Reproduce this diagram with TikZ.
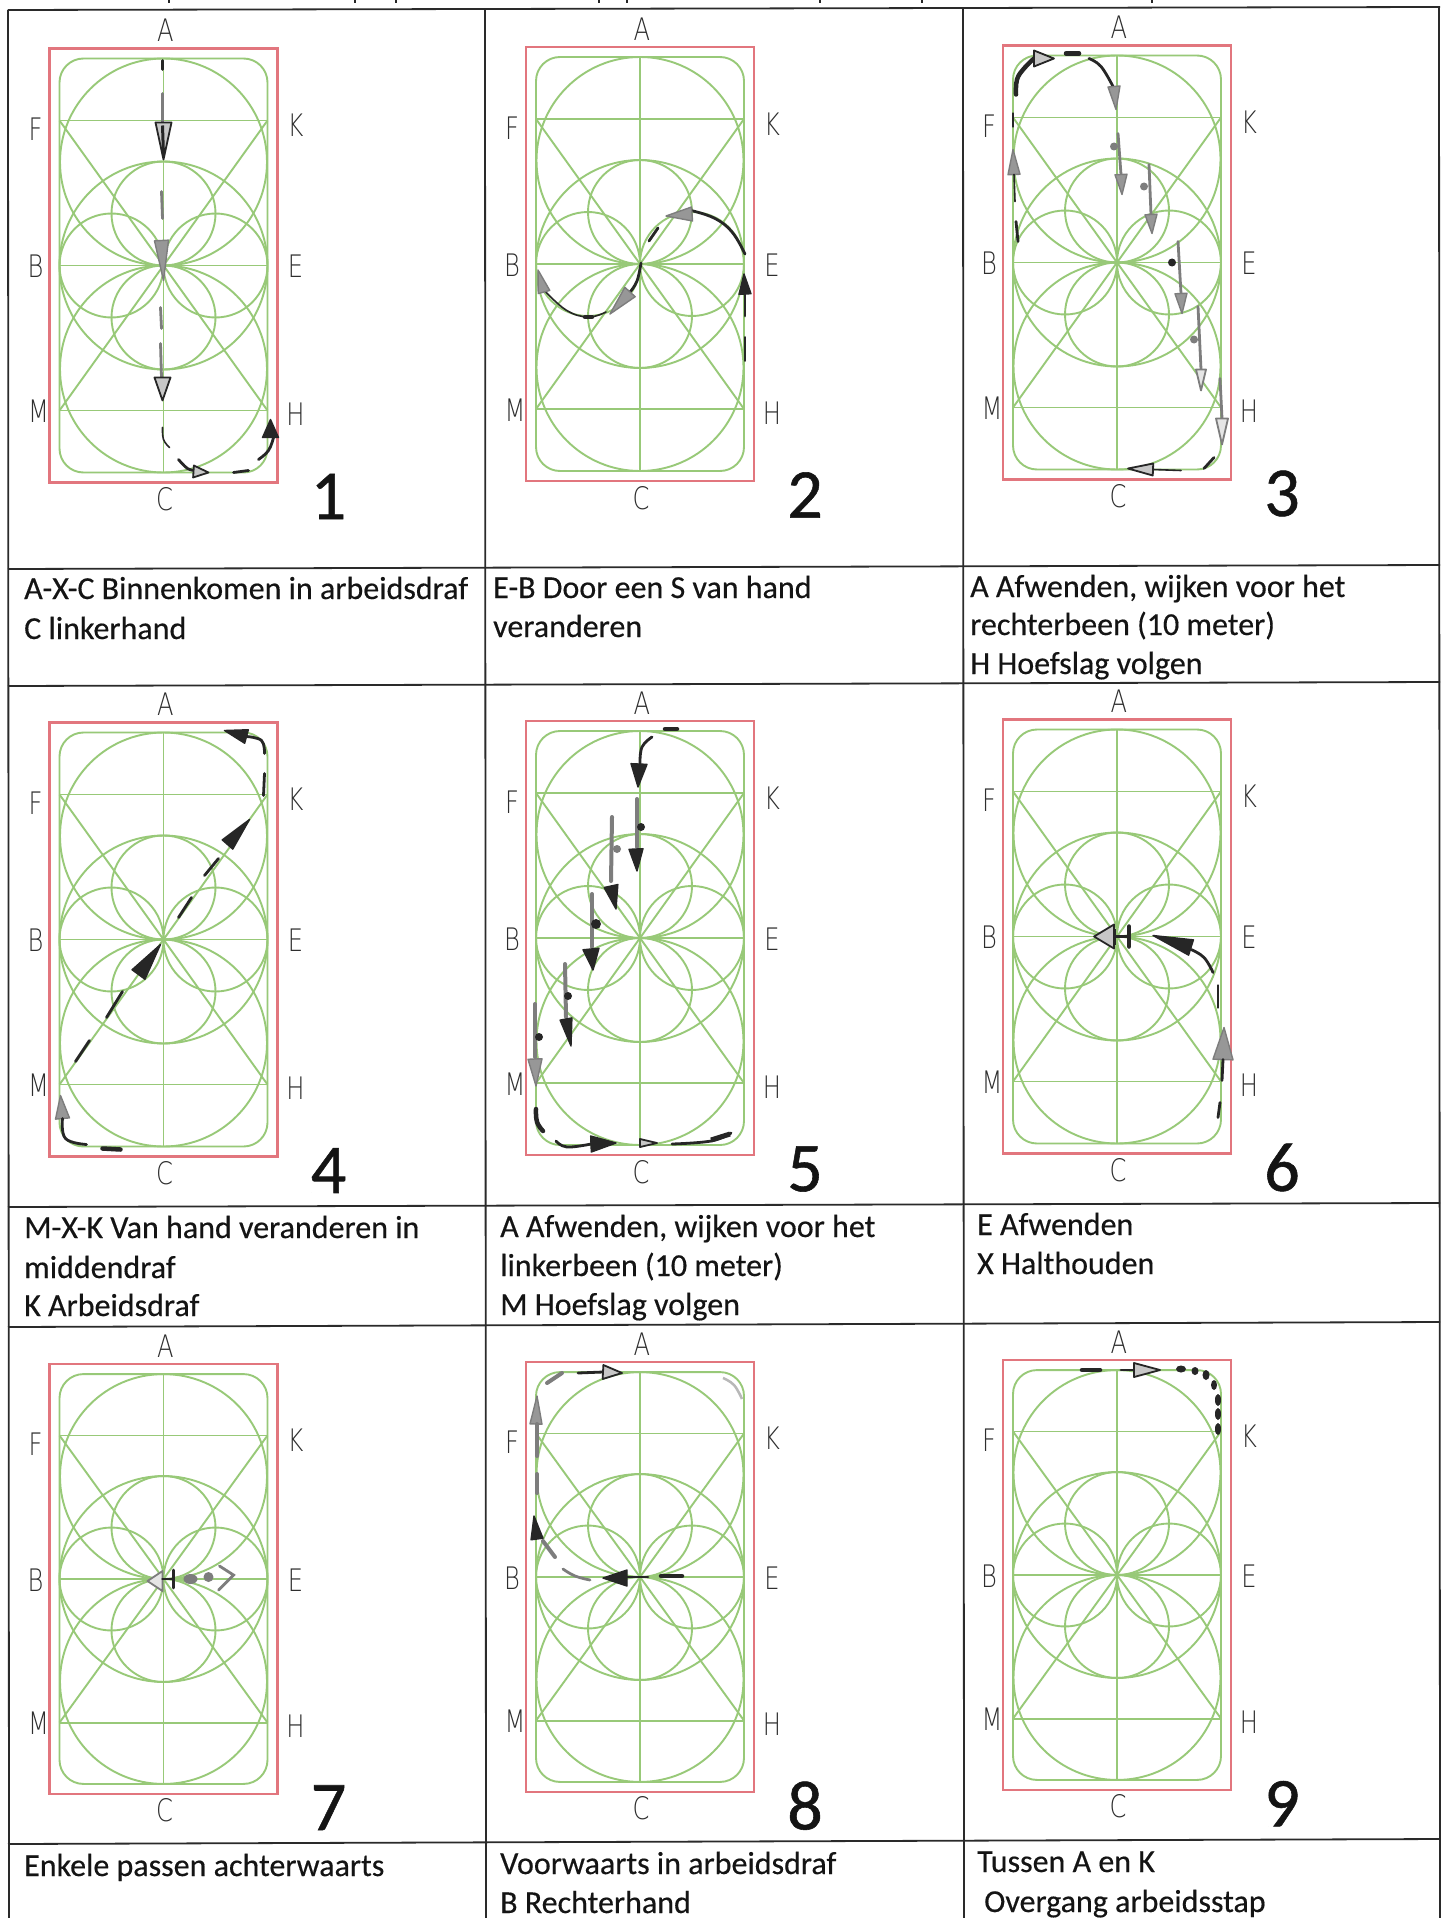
\documentclass[tikz,border=0pt]{standalone}
\usepackage{fontspec}
\usetikzlibrary{calc}
\setmainfont{Carlito}
\newfontfamily\capfont[FakeBold=0.35]{Carlito}
\newfontfamily\numfont[FakeBold=0.8]{Carlito}
\newfontfamily\cadfont{DejaVu Sans ExtraLight}
\definecolor{arenagreen}{HTML}{98C978}
\definecolor{arenared}{HTML}{E2767E}
\definecolor{tablek}{HTML}{2A2A2A}
\definecolor{inkk}{HTML}{262626}
\definecolor{inkg}{HTML}{7D7D7D}
\tikzset{
  x=1pt,y=-1pt,
  redbox/.style={draw=arenared,line width=2.2pt},
  gline/.style={draw=arenagreen,line width=1.9pt},
  tabline/.style={draw=tablek,line width=1.8pt},
  letter/.style={font=\cadfont\fontsize{31}{31}\selectfont,text=black!82,inner sep=0pt,xscale=.78},
  caption/.style={font=\capfont\fontsize{32}{32}\selectfont,text=black!92,anchor=base west,inner sep=0pt},
  bignum/.style={font=\numfont\fontsize{70}{70}\selectfont,text=black!92,inner sep=0pt},
  ink/.style={draw=inkk,line width=2.8pt,line cap=round},
  inkthin/.style={draw=inkk,line width=1.6pt,line cap=round},
  inkgrey/.style={draw=inkg,line width=2.8pt,line cap=round},
  inkfat/.style={draw=inkk,line width=4.5pt,line cap=round},
  greyfat/.style={draw=inkg,line width=4pt,line cap=round},
  hk/.style={draw=inkk,fill=inkk,line width=1.4pt,line join=round},
  hh/.style={draw=inkk,fill=black!22,line width=1.8pt,line join=round},
  hg/.style={draw=inkg,fill=inkg!80,line width=1.4pt,line join=round},
  hl/.style={draw=inkg,fill=black!10,line width=1.8pt,line join=round},
}
% arrow head: style, tip, middle of base, half width
\newcommand\hd[4][hk]{\draw[#1] (#2) -- ($(#3)!#4!90:(#2)$) -- ($(#3)!#4!-90:(#2)$) -- cycle;}
\newcommand\crv[2][ink]{\draw[#1] plot[smooth,tension=.7] coordinates {#2};}
\newcommand\dotk[3][inkk]{\fill[#1] (#2) ellipse [x radius=#3pt,y radius=#3pt];}
% one arena: vertical scale, centre x, centre y, index
\newcommand\arena[4][1]{%
  \begin{scope}[shift={(#2,#3)},yscale=#1]
    \draw[redbox] (-114,-217) rectangle (114,217);
    \draw[gline,rounded corners=24pt] (-104,-207) rectangle (104,207);
    \draw[gline] (0,-207) -- (0,207);
    \draw[gline] (-104,0) -- (104,0);
    \draw[gline] (-104,-145) -- (104,-145);
    \draw[gline] (-104,145) -- (104,145);
    \draw[gline] (-104,-145) -- (104,145);
    \draw[gline] (104,-145) -- (-104,145);
    \draw[gline] (0,-103.5) circle [radius=103.5];
    \draw[gline] (0,103.5) circle [radius=103.5];
    \draw[gline] (0,0) circle [radius=104];
    \draw[gline] (0,-52) circle [radius=52];
    \draw[gline] (0,52) circle [radius=52];
    \draw[gline] (-52,0) circle [radius=52];
    \draw[gline] (52,0) circle [radius=52];
    \node[letter] (A#4) at (2,-235) {A};
    \node[letter] (F#4) at (-128,-136) {F};
    \node[letter] (K#4) at (132,-140) {K};
    \node[letter] (B#4) at (-128,1) {B};
    \node[letter] (E#4) at (132,1) {E};
    \node[letter] (M#4) at (-125,146) {M};
    \node[letter] (H#4) at (132,149) {H};
    \node[letter] (C#4) at (1,234) {C};
    \node[bignum] (N#4) at (165,231) {#4};
  \end{scope}}
\begin{document}
\begin{tikzpicture}
\useasboundingbox (0,0) rectangle (1443,1918);
\fill[white] (0,0) rectangle (1443,1918);
% clipped first line above the table
\foreach \tx in {169,355,396,599,627,820,922,1152}
  \draw[draw=black!85,line width=2pt] (\tx,0) -- (\tx,3);
% table
\draw[tabline] (8,10) -- (1440,7);
\draw[tabline] (8,569) -- (1440,565);
\draw[tabline] (8,686) -- (1440,682);
\draw[tabline] (8,1207) -- (1440,1203);
\draw[tabline] (8,1327) -- (1440,1322);
\draw[tabline] (8,1844) -- (1440,1839);
\draw[tabline] (8,10) -- (9,1918);
\draw[tabline] (485,9) -- (486,1918);
\draw[tabline] (963,8) -- (964,1918);
\draw[tabline] (1439,7) -- (1440,1918);

\arena{163.5}{265.5}{1}
\arena{640}{264}{2}
\arena{1117}{262.5}{3}
\arena{163.5}{939.5}{4}
\arena{640}{938}{5}
\arena{1117}{936.5}{6}
\arena[.99]{163.5}{1579}{7}
\arena[.99]{640}{1577}{8}
\arena[.99]{1117}{1575}{9}

% panel 1
\begin{scope}[shift={(163.5,265.5)}]
  \draw[ink] (-1,-205) -- (-1,-196);
  \draw[inkgrey] (-1,-172) -- (-1,-143);
  \hd[hh]{0,-106}{0,-143}{8pt}
  \draw[inkk,line width=3pt] (-1,-140) -- (0,-110);
  \draw[inkgrey] (-2,-74) -- (-1,-47);
  \hd[hg]{0,15}{-2,-25}{7pt}
  \draw[inkgrey] (-3,42) -- (-2,63);
  \draw[inkgrey] (-3,78) -- (-2,112);
  \hd[hh]{-1,135}{-1,112}{8pt}
  \crv[inkthin]{(-1,162)(0,174)(6,182)}
  \crv{(15,194)(24,203)(32,205)}
  \hd[hh]{45,207}{30,206}{6pt}
  \draw[ink] (70,207) -- (85,205);
  \crv{(95,194)(105,185)(110,172)}
  \hd{107,154}{107,172}{8pt}
\end{scope}

% panel 2
\begin{scope}[shift={(640,264)}]
  \crv{(105,-10)(92,-32)(74,-46)(49,-54)}
  \hd[hg]{26,-48}{52,-50}{7pt}
  \draw[ink] (18,-36) -- (9,-23);
  \hd{104,10}{105,30}{6pt}
  \draw[ink] (105,30) -- (105,52);
  \draw[inkthin] (105,73) -- (105,97);
  \crv{(1,-1)(-3,17)(-10,28)}
  \hd[hg]{-30,50}{-10,28}{7pt}
  \crv[inkthin]{(-34,48)(-52,53)(-74,46)(-96,26)}
  \draw[inkfat] (-55,53) -- (-48,53);
  \hd[hg]{-102,6}{-96,28}{6pt}
\end{scope}

% panel 3
\begin{scope}[shift={(1117,262.5)}]
  \crv[inkfat]{(-101,-168)(-100,-183)(-93,-194)(-83,-204)}
  \hd[hh]{-63,-204}{-83,-204}{8pt}
  \draw[inkfat] (-51,-209) -- (-38,-209);
  \crv{(-28,-204)(-16,-196)(-4,-176)}
  \hd[hg]{-1,-153}{-3,-176}{6pt}
  \draw[ink] (-104,-149) -- (-104,-136);
  \hd[hg]{-104,-113}{-103,-88}{6pt}
  \draw[inkthin] (-103,-88) -- (-102,-61);
  \draw[ink] (-101,-41) -- (-99,-21);
  \draw[inkgrey] (1,-129) -- (4,-88);
  \hd[hg]{5,-68}{4,-88}{6pt}
  \dotk[inkg]{-3,-116}{4}
  \draw[inkgrey] (32,-98) -- (34,-48);
  \hd[hg]{35,-29}{34,-48}{6pt}
  \dotk[inkg]{27,-76}{4}
  \draw[inkgrey] (61,-21) -- (64,31);
  \hd[hg]{65,51}{64,31}{6pt}
  \dotk{55,0}{4}
  \draw[inkgrey] (81,44) -- (84,107);
  \hd[hl]{84,128}{84,107}{5pt}
  \dotk[inkg]{77,77}{4}
  \draw[inkgrey] (103,116) -- (105,156);
  \hd[hl]{105,182}{105,156}{6pt}
  \draw[ink] (87,206) -- (97,195);
  \draw[inkthin] (64,208) -- (36,207);
  \hd[hh]{11,206}{36,207}{6pt}
\end{scope}

% panel 4
\begin{scope}[shift={(163.5,939.5)}]
  \hd{61,-209}{83,-203}{7pt}
  \crv{(83,-203)(98,-199)(101,-186)}
  \draw[ink] (101,-166) -- (100,-144);
  \hd{86,-120}{64,-95}{7pt}
  \draw[ink] (55,-81) -- (41,-64);
  \draw[ink] (28,-42) -- (15,-22);
  \hd{-3,5}{-25,35}{8pt}
  \draw[ink] (-41,52) -- (-57,78);
  \draw[ink] (-74,101) -- (-88,122);
  \hd[hg]{-103,156}{-101,179}{7pt}
  \crv{(-101,179)(-98,199)(-77,205)}
  \draw[inkfat] (-61,209) -- (-43,210);
\end{scope}

% panel 5
\begin{scope}[shift={(640,938)}]
  \draw[inkfat] (25,-209) -- (37,-209);
  \crv{(12,-201)(2,-191)(0,-174)}
  \hd[hk]{-2,-151}{-1,-174}{8pt}
  \draw[greyfat] (-3,-139) -- (-3,-91);
  \dotk{1,-111}{4}
  \hd{-3,-67}{-4,-89}{7pt}
  \draw[greyfat] (-28,-121) -- (-29,-57);
  \dotk[inkg]{-23,-89}{4}
  \hd{-24,-29}{-29,-52}{7pt}
  \draw[greyfat] (-48,-44) -- (-48,9);
  \dotk{-44,-14}{5}
  \hd{-47,32}{-49,11}{8pt}
  \draw[greyfat] (-75,26) -- (-74,79);
  \dotk{-72,58}{4}
  \hd{-69,108}{-74,81}{6pt}
  \draw[greyfat] (-105,66) -- (-105,119);
  \dotk{-101,99}{4}
  \hd[hg]{-104,148}{-105,121}{7pt}
  \crv[inkfat]{(-104,171)(-103,184)(-97,193)}
  \crv{(-84,203)(-73,209)(-49,206)}
  \hd{-24,205}{-49,206}{8pt}
  \hd[hh]{17,205}{0,205}{4pt}
  \crv{(32,206)(71,203)(91,195)}
  \draw[inkk,line width=5pt] (71,202) -- (90,196);
\end{scope}

% panel 6
\begin{scope}[shift={(1117,936.5)}]
  \hd[hh]{-23,0}{-3,0}{12pt}
  \draw[inkk,line width=3pt] (-3,0) -- (12,0);
  \draw[inkfat] (12,-10) -- (12,10);
  \draw[inkk,line width=3pt] (-3,-8) -- (-3,8);
  \hd{36,-1}{74,11}{8pt}
  \crv{(74,13)(87,21)(96,36)}
  \draw[ink] (101,49) -- (101,71);
  \hd[hg]{107,91}{106,123}{10pt}
  \draw[ink] (106,123) -- (105,144);
  \draw[ink] (103,166) -- (101,181);
\end{scope}

% panel 7
\begin{scope}[shift={(163.5,1579)}]
  \hd[hl]{-16,2}{-1,2}{10pt}
  \draw[ink] (-1,0) -- (10,0);
  \draw[ink] (10,-9) -- (10,9);
  \fill[inkg] (27,0) ellipse [x radius=7,y radius=5];
  \fill[inkg] (45,-2) ellipse [x radius=5,y radius=5];
  \draw[inkgrey] (56,-13) -- (70,-4) -- (55,11);
\end{scope}

% panel 8
\begin{scope}[shift={(640,1577)}]
  \draw[greyfat] (-93,-194) -- (-78,-204);
  \draw[ink] (-62,-204) -- (-37,-205);
  \hd[hh]{-18,-204}{-37,-205}{7pt}
  \crv[draw=black!28,line width=2.5pt]{(83,-199)(94,-192)(102,-178)}
  \hd[hg]{-103,-181}{-104,-153}{6pt}
  \draw[greyfat] (-103,-153) -- (-103,-121);
  \draw[greyfat] (-103,-103) -- (-103,-84);
  \hd{-106,-61}{-103,-38}{6pt}
  \draw[greyfat] (-97,-36) -- (-85,-20);
  \crv[inkgrey]{(-77,-8)(-65,-1)(-50,3)}
  \hd{-37,1}{-13,1}{8pt}
  \draw[ink] (-13,0) -- (8,0);
  \draw[inkfat] (21,-1) -- (42,-1);
\end{scope}

% panel 9
\begin{scope}[shift={(1117,1575)}]
  \draw[inkfat] (-35,-205) -- (-17,-205);
  \draw[ink] (4,-205) -- (17,-205);
  \hd[hh]{43,-205}{17,-205}{7pt}
  \fill[inkk] (64,-206) ellipse [x radius=5,y radius=3.5];
  \fill[inkk] (89,-200) ellipse [x radius=3.5,y radius=5];
  \fill[inkk] (97,-190) ellipse [x radius=3,y radius=5];
  \fill[inkk] (101,-175) ellipse [x radius=3,y radius=6];
  \fill[inkk] (101,-161) ellipse [x radius=3,y radius=6];
  \fill[inkk] (101,-146) ellipse [x radius=3,y radius=6];
  \fill[inkk] (78,-204) ellipse [x radius=3.5,y radius=4];
\end{scope}

% captions
\node[caption] (c1a) at (24,599) {A-X-C Binnenkomen in arbeidsdraf};
\node[caption] (c1b) at (24,639) {C linkerhand};
\node[caption] (c2a) at (493,598) {E-B Door een S van hand};
\node[caption] (c2b) at (493,637) {veranderen};
\node[caption] (c3a) at (970,597) {A Afwenden, wijken voor het};
\node[caption] (c3b) at (970,635) {rechterbeen (10 meter)};
\node[caption] (c3c) at (970,674) {H Hoefslag volgen};
\node[caption] (c4a) at (24,1238) {M-X-K Van hand veranderen in};
\node[caption] (c4b) at (24,1278) {middendraf};
\node[caption] (c4c) at (24,1316) {K Arbeidsdraf};
\node[caption] (c5a) at (500,1237) {A Afwenden, wijken voor het};
\node[caption] (c5b) at (500,1276) {linkerbeen (10 meter)};
\node[caption] (c5c) at (500,1315) {M Hoefslag volgen};
\node[caption] (c6a) at (977,1235) {E Afwenden};
\node[caption] (c6b) at (977,1274) {X Halthouden};
\node[caption] (c7a) at (24,1876) {Enkele passen achterwaarts};
\node[caption] (c8a) at (500,1874) {Voorwaarts in arbeidsdraf};
\node[caption] (c8b) at (500,1913) {B Rechterhand};
\node[caption] (c9a) at (977,1872) {Tussen A en K};
\node[caption] (c9b) at (984,1912) {Overgang arbeidsstap};
\end{tikzpicture}
\end{document}
